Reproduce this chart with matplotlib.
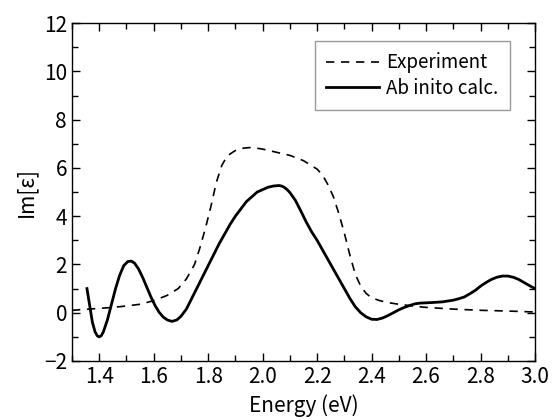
import matplotlib
matplotlib.use("Agg")
import matplotlib.pyplot as plt
from matplotlib.ticker import MultipleLocator

plt.rcParams['font.family'] = ['Noto Sans CJK JP', 'DejaVu Sans']

# Experiment (dashed)
exp_e = [1.30, 1.35, 1.40, 1.45, 1.50, 1.55, 1.60, 1.65, 1.69, 1.72, 1.75, 1.77,
         1.79, 1.81, 1.83, 1.85, 1.87, 1.90, 1.93, 1.96, 2.00, 2.05, 2.10, 2.15,
         2.20, 2.22, 2.24, 2.26, 2.28, 2.30, 2.32, 2.34, 2.36, 2.38, 2.40, 2.43,
         2.46, 2.50, 2.55, 2.60, 2.70, 2.80, 2.90, 3.00]
exp_im = [0.10, 0.14, 0.18, 0.22, 0.28, 0.35, 0.50, 0.72, 1.00, 1.40, 2.00, 2.70,
          3.50, 4.40, 5.40, 6.10, 6.50, 6.72, 6.82, 6.85, 6.78, 6.65, 6.52, 6.30,
          5.95, 5.70, 5.30, 4.80, 4.10, 3.30, 2.40, 1.60, 1.10, 0.80, 0.62, 0.50,
          0.42, 0.35, 0.28, 0.22, 0.15, 0.10, 0.07, 0.03]

# Ab initio calculation (solid)
calc_e = [1.355, 1.365, 1.375, 1.385, 1.393, 1.400, 1.407, 1.415, 1.430, 1.445,
          1.460, 1.475, 1.490, 1.505, 1.518, 1.530, 1.545, 1.560, 1.575, 1.590,
          1.605, 1.620, 1.635, 1.650, 1.667, 1.685, 1.700, 1.720, 1.740, 1.760,
          1.780, 1.800, 1.820, 1.840, 1.860, 1.880, 1.900, 1.920, 1.940, 1.960,
          1.980, 2.000, 2.020, 2.040, 2.060, 2.070, 2.080, 2.090, 2.100, 2.120,
          2.140, 2.160, 2.180, 2.200, 2.220, 2.240, 2.260, 2.280, 2.300, 2.320,
          2.340, 2.360, 2.380, 2.400, 2.420, 2.440, 2.460, 2.480, 2.500, 2.520,
          2.540, 2.560, 2.580, 2.620, 2.660, 2.700, 2.720, 2.740, 2.760, 2.780,
          2.800, 2.820, 2.840, 2.860, 2.880, 2.900, 2.920, 2.940, 2.960, 2.980,
          3.000]
calc_im = [1.00, 0.30, -0.40, -0.80, -0.96, -1.00, -0.96, -0.80, -0.30, 0.35,
           1.00, 1.55, 1.95, 2.12, 2.14, 2.05, 1.80, 1.45, 1.05, 0.65,
           0.30, 0.02, -0.18, -0.30, -0.36, -0.30, -0.15, 0.15, 0.60, 1.05,
           1.50, 1.95, 2.40, 2.85, 3.25, 3.65, 4.00, 4.30, 4.60, 4.80,
           5.00, 5.10, 5.20, 5.25, 5.27, 5.25, 5.19, 5.10, 4.98, 4.66,
           4.22, 3.76, 3.35, 3.00, 2.60, 2.20, 1.80, 1.40, 1.00, 0.60,
           0.25, 0.00, -0.17, -0.27, -0.28, -0.22, -0.12, 0.00, 0.12, 0.22,
           0.30, 0.37, 0.40, 0.42, 0.45, 0.52, 0.58, 0.65, 0.78, 0.92,
           1.10, 1.25, 1.38, 1.47, 1.52, 1.52, 1.47, 1.38, 1.25, 1.12,
           1.00]

fig = plt.figure(figsize=(5.52, 4.2), dpi=100)
ax = fig.add_axes([0.1304, 0.1405, 0.8388, 0.8045])

ax.plot(exp_e, exp_im, color='black', linestyle=(0, (5, 4)), linewidth=1.2, label='Experiment')
ax.plot(calc_e, calc_im, color='black', linestyle='-', linewidth=2.0, label='Ab inito calc.')

ax.set_xlim(1.3, 3.0)
ax.set_ylim(-2, 12)
ax.xaxis.set_major_locator(MultipleLocator(0.2))
ax.xaxis.set_minor_locator(MultipleLocator(0.1))
ax.yaxis.set_major_locator(MultipleLocator(2))
ax.yaxis.set_minor_locator(MultipleLocator(1))
ax.set_xticks([1.4, 1.6, 1.8, 2.0, 2.2, 2.4, 2.6, 2.8, 3.0])
ax.tick_params(which='both', direction='in', top=True, right=True, labelsize=15)
ax.tick_params(which='major', length=6, width=1)
ax.tick_params(which='minor', length=4, width=1)
for s in ax.spines.values():
    s.set_linewidth(1.0)

ax.set_xlabel('Energy (eV)', fontsize=15, labelpad=5)
ax.set_ylabel('Im[ε]', fontsize=15, labelpad=5)

leg = ax.legend(loc='upper right', bbox_to_anchor=(0.946, 0.947), borderaxespad=0,
                fontsize=13.5, frameon=True, fancybox=False, handlelength=2.8,
                handletextpad=0.4, labelspacing=0.25, borderpad=0.6)
leg.get_frame().set_edgecolor('gray')
leg.get_frame().set_linewidth(1.0)

fig.savefig('out.png', dpi=100)
